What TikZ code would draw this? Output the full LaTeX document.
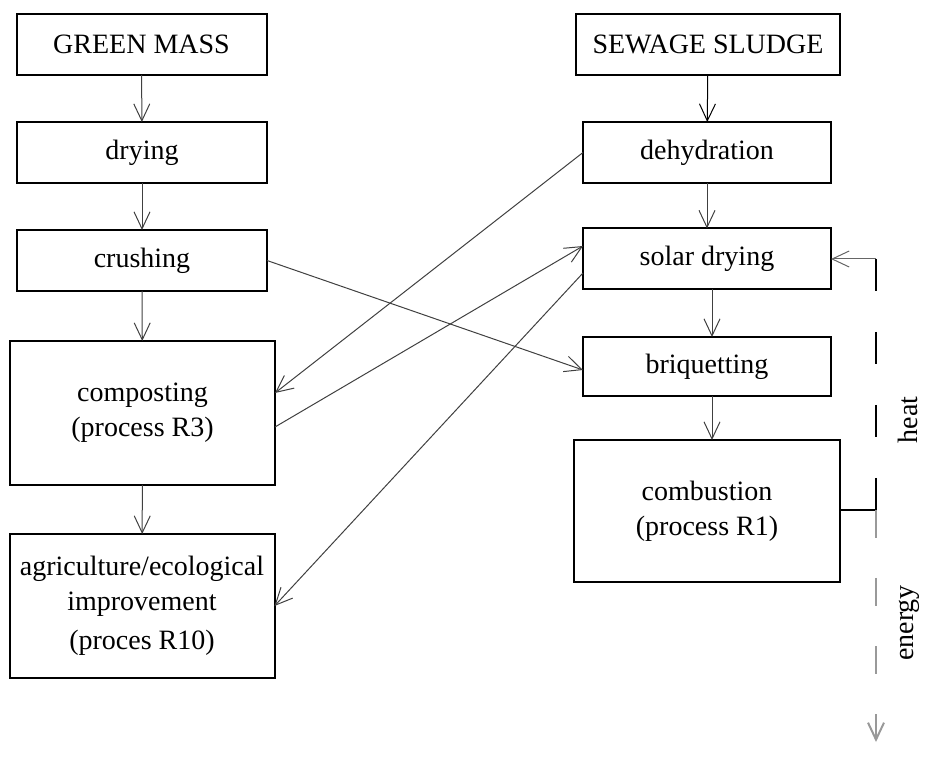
\documentclass[tikz,border=0pt]{standalone}
\usepackage{fontspec}
\setmainfont{Liberation Serif}
\usetikzlibrary{arrows.meta}

\begin{document}
\begin{tikzpicture}[x=0.5pt,y=0.5pt,yscale=-1,xscale=1,
    box/.style={draw, line width=1pt, inner sep=0pt, outer sep=0pt, align=center, font=\fontsize{14}{17.5}\selectfont},
    smallbox/.style={box, minimum width=125pt, minimum height=30.5pt},
    bigbox/.style={box, minimum width=132.5pt, minimum height=72pt},
    flow/.style={draw=black!75, line width=0.5pt, -{Straight Barb[length=8.5pt,width=8pt]}},
    heatline/.style={line width=1pt, dash pattern=on 16pt off 20.5pt},
    energyline/.style={draw=black!40, line width=1pt, dash pattern=on 14pt off 20pt, -{Straight Barb[length=8.5pt,width=8pt]}},
    sidelabel/.style={rotate=90, font=\fontsize{14}{17}\selectfont}]
    \useasboundingbox (0,0) rectangle (926,758);

    %Shape: Rectangle left column
    \node[smallbox] (green) at (141.5,44.5) {GREEN MASS};
    \node[smallbox] (drying) at (142,152.5) {drying};
    \node[smallbox] (crush) at (142,260.5) {crushing};
    \node[bigbox] (compost) at (142.5,413) {composting\\(process R3)};
    \node[bigbox] (agri) at (142,606) {agriculture/ecological\\improvement\\[2pt](proces R10)};

    %Shape: Rectangle right column
    \node[smallbox, minimum width=132pt] (sewage) at (708,44.5) {SEWAGE SLUDGE};
    \node[smallbox, minimum width=124pt] (dehyd) at (707,152.5) {dehydration};
    \node[smallbox, minimum width=124pt] (solar) at (707,259) {solar drying};
    \node[smallbox, minimum width=124pt, minimum height=29.5pt] (briq) at (707,366.5) {briquetting};
    \node[bigbox, minimum width=133pt, minimum height=71pt] (combust) at (707,511) {combustion\\(process R1)};

    %Straight Lines down the columns
    \draw[flow] (green) -- (drying);
    \draw[flow] (drying) -- (crush);
    \draw[flow] (crush) -- (compost);
    \draw[flow] (compost) -- (agri);
    \draw[flow, draw=black] (sewage) -- (dehyd);
    \draw[flow] (dehyd) -- (solar);
    \draw[flow] ([xshift=2.5pt]solar.south) -- ([xshift=2.5pt]briq.north);
    \draw[flow] ([xshift=2.5pt]briq.south) -- ([xshift=2.5pt]combust.north);

    %Straight Lines across
    \draw[flow] (dehyd.west) -- ([yshift=-10pt]compost.east);
    \draw[flow] ([yshift=7pt]compost.east) -- ([yshift=-6.5pt]solar.west);
    \draw[flow] (crush.east) -- ([yshift=1.75pt]briq.west);
    \draw[flow] ([yshift=7pt]solar.west) -- (agri.east);

    %heat and energy
    \coordinate (corner) at (876,259);
    \coordinate (joint) at (876,510);
    \coordinate (out) at (876,742);
    \draw[line width=1pt] (combust.east |- joint) -- (joint);
    \draw[heatline] (corner) -- (joint);
    \draw[flow, draw=black!60] (corner) -- (solar.east);
    \draw[energyline] (joint) -- (out);

    % Text Node
    \node[sidelabel] (heat) at (908,420) {heat};
    % Text Node
    \node[sidelabel] (energy) at (909,623) {energy};

\end{tikzpicture}
\end{document}
